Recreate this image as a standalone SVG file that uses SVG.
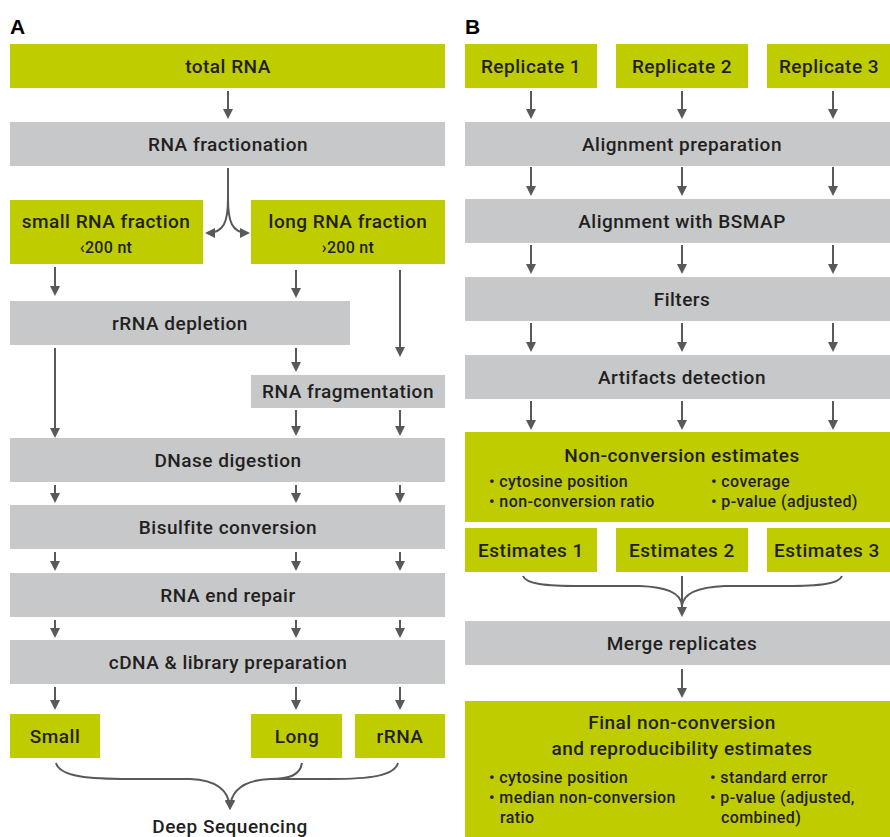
<svg xmlns="http://www.w3.org/2000/svg" width="890" height="837" viewBox="0 0 890 837">
<defs>
<style>
.g{fill:#bfcc00}
.s{fill:#c7c8ca}
text{font-family:Roboto,"Liberation Sans",Arial,sans-serif;font-weight:500;fill:#231f20}
.t{font-size:19px;letter-spacing:0.5px;text-anchor:middle}
.sm{font-size:16px;letter-spacing:0.3px;text-anchor:middle}
.b{font-size:16px;letter-spacing:0.4px}
.h{font-family:"Liberation Sans",Arial,sans-serif;font-size:21px;font-weight:bold;fill:#000}
.c{fill:none;stroke:#58595b;stroke-width:2}
</style>
<marker id="ah" viewBox="0 0 10 10" refX="8" refY="5" markerWidth="10" markerHeight="10" markerUnits="userSpaceOnUse" orient="auto">
<path d="M0,0 L10,5 L0,10 z" fill="#58595b"/>
</marker>
</defs>
<rect width="890" height="837" fill="#fff"/>
<text class="h" x="10" y="34">A</text>
<text class="h" x="465" y="34">B</text>

<g id="a-total"><rect class="g" x="10" y="44" width="435" height="44"/><text class="t" x="228" y="73">total RNA</text></g>
<g id="a-fract"><rect class="s" x="10" y="122" width="435" height="44"/><text class="t" x="228" y="151">RNA fractionation</text></g>
<g id="a-small"><rect class="g" x="10" y="200" width="193" height="64"/><text class="t" x="106" y="228">small RNA fraction</text><text class="sm" x="106" y="253">‹200 nt</text></g>
<g id="a-long"><rect class="g" x="251" y="200" width="194" height="64"/><text class="t" x="348" y="228">long RNA fraction</text><text class="sm" x="348" y="253">›200 nt</text></g>
<g id="a-rrna-dep"><rect class="s" x="10" y="301" width="340" height="44"/><text class="t" x="180" y="330">rRNA depletion</text></g>
<g id="a-frag"><rect class="s" x="251" y="375" width="194" height="33"/><text class="t" x="348" y="398">RNA fragmentation</text></g>
<g id="a-dnase"><rect class="s" x="10" y="438" width="435" height="44"/><text class="t" x="228" y="467">DNase digestion</text></g>
<g id="a-bisulfite"><rect class="s" x="10" y="505" width="435" height="44"/><text class="t" x="228" y="534">Bisulfite conversion</text></g>
<g id="a-endrepair"><rect class="s" x="10" y="573" width="435" height="44"/><text class="t" x="228" y="602">RNA end repair</text></g>
<g id="a-cdna"><rect class="s" x="10" y="640" width="435" height="44"/><text class="t" x="228" y="669">cDNA &amp; library preparation</text></g>
<g id="a-out-small"><rect class="g" x="10" y="714" width="90" height="44"/><text class="t" x="55" y="743">Small</text></g>
<g id="a-out-long"><rect class="g" x="251" y="714" width="91" height="44"/><text class="t" x="297" y="743">Long</text></g>
<g id="a-out-rrna"><rect class="g" x="355" y="714" width="90" height="44"/><text class="t" x="400" y="743">rRNA</text></g>
<g id="a-deepseq"><text class="t" x="230" y="833">Deep Sequencing</text></g>

<g id="b-rep1"><rect class="g" x="465" y="44" width="132" height="44"/><text class="t" x="531" y="73">Replicate 1</text></g>
<g id="b-rep2"><rect class="g" x="616" y="44" width="132" height="44"/><text class="t" x="682" y="73">Replicate 2</text></g>
<g id="b-rep3"><rect class="g" x="767" y="44" width="123" height="44"/><text class="t" x="829" y="73">Replicate 3</text></g>
<g id="b-alprep"><rect class="s" x="465" y="122" width="425" height="44"/><text class="t" x="682" y="151">Alignment preparation</text></g>
<g id="b-bsmap"><rect class="s" x="465" y="199" width="425" height="44"/><text class="t" x="682" y="228">Alignment with BSMAP</text></g>
<g id="b-filters"><rect class="s" x="465" y="277" width="425" height="44"/><text class="t" x="682" y="306">Filters</text></g>
<g id="b-artifacts"><rect class="s" x="465" y="355" width="425" height="44"/><text class="t" x="682" y="384">Artifacts detection</text></g>
<g id="b-nonconv"><rect class="g" x="465" y="432" width="425" height="90"/><text class="t" x="682" y="462">Non-conversion estimates</text>
<text class="b" x="489" y="487">• cytosine position</text><text class="b" x="489" y="507">• non-conversion ratio</text>
<text class="b" x="711" y="487">• coverage</text><text class="b" x="711" y="507">• p-value (adjusted)</text></g>
<g id="b-est1"><rect class="g" x="465" y="528" width="132" height="44"/><text class="t" x="531" y="557">Estimates 1</text></g>
<g id="b-est2"><rect class="g" x="616" y="528" width="132" height="44"/><text class="t" x="682" y="557">Estimates 2</text></g>
<g id="b-est3"><rect class="g" x="767" y="528" width="123" height="44"/><text class="t" x="827" y="557">Estimates 3</text></g>
<g id="b-merge"><rect class="s" x="465" y="621" width="425" height="44"/><text class="t" x="682" y="650">Merge replicates</text></g>
<g id="b-final"><rect class="g" x="465" y="701" width="425" height="136"/>
<text class="t" x="682" y="729">Final non-conversion</text><text class="t" x="682" y="755">and reproducibility estimates</text>
<text class="b" x="489" y="783">• cytosine position</text><text class="b" x="489" y="803">• median non-conversion</text><text class="b" x="500" y="823">ratio</text>
<text class="b" x="710" y="783">• standard error</text><text class="b" x="710" y="803">• p-value (adjusted,</text><text class="b" x="721" y="823">combined)</text></g>

<g id="connectors" class="c" marker-end="url(#ah)">
<path d="M228,91 V117"/>
<path d="M228,168 V198 C228,222 224,233 207,233"/>
<path d="M228,198 C228,222 232,233 248,233"/>
<path d="M55,267 V294"/>
<path d="M296,270 V296"/>
<path d="M400,270 V355"/>
<path d="M55,348 V436"/>
<path d="M296,348 V370"/>
<path d="M296,410 V434"/>
<path d="M400,410 V434"/>
<path d="M55,485 V501"/>
<path d="M296,485 V501"/>
<path d="M400,485 V501"/>
<path d="M55,552 V569"/>
<path d="M296,552 V569"/>
<path d="M400,552 V569"/>
<path d="M55,620 V636"/>
<path d="M296,620 V636"/>
<path d="M400,620 V636"/>
<path d="M55,687 V708"/>
<path d="M296,687 V708"/>
<path d="M400,687 V708"/>
<path d="M56,763 C60,777 90,779 130,779 L190,779 C215,780 229,789 230,808"/>
<path d="M398,763 C394,776 370,779 330,779 L270,779 C245,780 231,789 230,808"/>
<path d="M302,763 C300,775 290,779 270,779" marker-end="none"/>
<path d="M531,91 V117"/><path d="M682,91 V117"/><path d="M833,91 V117"/>
<path d="M531,167 V194"/><path d="M682,167 V194"/><path d="M833,167 V194"/>
<path d="M531,245 V272"/><path d="M682,245 V272"/><path d="M833,245 V272"/>
<path d="M531,323 V350"/><path d="M682,323 V350"/><path d="M833,323 V350"/>
<path d="M531,401 V428"/><path d="M682,401 V428"/><path d="M833,401 V428"/>
<path d="M523,576 C526,584 545,586 580,586 L640,586 C665,587 681,592 682,606" marker-end="none"/>
<path d="M842,576 C839,584 820,586 785,586 L725,586 C700,587 683,592 682,606" marker-end="none"/>
<path d="M682,576 V615"/>
<path d="M682,669 V696"/>
</g>
</svg>
